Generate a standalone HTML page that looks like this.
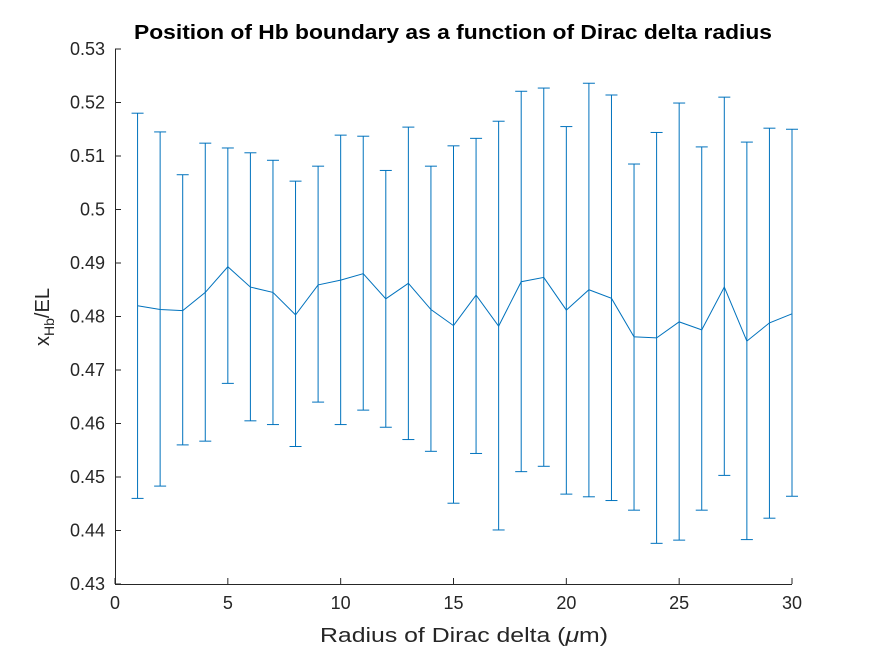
<!DOCTYPE html>
<html><head><meta charset="utf-8"><style>
html,body{margin:0;padding:0;background:#fff;}
svg{display:block;font-family:"Liberation Sans",Arial,sans-serif;}
</style></head><body>
<svg id="chart" width="875" height="656" viewBox="0 0 875 656">
<rect width="875" height="656" fill="#fff"/>
<text x="453" y="39" text-anchor="middle" font-size="20" font-weight="bold" fill="#000" textLength="638" lengthAdjust="spacingAndGlyphs">Position of Hb boundary as a function of Dirac delta radius</text>
<g id="axes"></g>
<g id="series"></g>
<text x="464" y="642" text-anchor="middle" font-size="20" fill="#262626" textLength="288" lengthAdjust="spacingAndGlyphs">Radius of Dirac delta (<tspan font-style="italic">μ</tspan>m)</text>
<text transform="translate(49,317) rotate(-90)" text-anchor="middle" font-size="20" fill="#262626">x<tspan font-size="14" dy="5">Hb</tspan><tspan dy="-5">/EL</tspan></text>
</svg>
<script>
const xs = [1,2,3,4,5,6,7,8,9,10,11,12,13,14,15,16,17,18,19,20,21,22,23,24,25,26,27,28,29,30];
const means = [0.482,0.4813,0.4811,0.4845,0.4893,0.4855,0.4845,0.4803,0.4859,0.4868,0.488,0.4833,0.4862,0.4813,0.4783,0.484,0.4782,0.4865,0.4873,0.4812,0.485,0.4834,0.4762,0.476,0.479,0.4775,0.4855,0.4754,0.4788,0.4805];
const uppers = [0.518,0.5145,0.5065,0.5124,0.5115,0.5106,0.5092,0.5053,0.5081,0.5139,0.5137,0.5073,0.5154,0.5081,0.5119,0.5133,0.5165,0.5221,0.5227,0.5155,0.5236,0.5214,0.5085,0.5144,0.5199,0.5117,0.521,0.5126,0.5152,0.515];
const lowers = [0.446,0.4483,0.456,0.4567,0.4675,0.4605,0.4598,0.4557,0.464,0.4598,0.4625,0.4593,0.457,0.4548,0.4451,0.4544,0.4401,0.451,0.452,0.4468,0.4463,0.4456,0.4438,0.4376,0.4382,0.4438,0.4503,0.4383,0.4423,0.4464];
const xTicks = [0,5,10,15,20,25,30];
const yTicks = [0.43,0.44,0.45,0.46,0.47,0.48,0.49,0.5,0.51,0.52,0.53];
const yTickLabels = ["0.43","0.44","0.45","0.46","0.47","0.48","0.49","0.5","0.51","0.52","0.53"];

const NS="http://www.w3.org/2000/svg";
const X0=115,X1=792,Y0=584,Y1=49;
const sx=v=>X0+(v-0)/(30-0)*(X1-X0);
const sy=v=>Y0-(v-0.43)/(0.53-0.43)*(Y0-Y1);
const axes=document.getElementById('axes'), series=document.getElementById('series');
function mk(tag,attrs,parent){const e=document.createElementNS(NS,tag);for(const k in attrs)e.setAttribute(k,attrs[k]);parent.appendChild(e);return e;}

let l=mk('line',{x1:X0,y1:Y0+0.5,x2:X1,y2:Y0+0.5,stroke:'#262626','stroke-width':1},axes);


l=mk('line',{x1:X0+0.5,y1:Y0,x2:X0+0.5,y2:Y1,stroke:'#262626','stroke-width':1},axes);


xTicks.forEach(t=>{
  const x=sx(t);
  const tk=mk('line',{x1:x,y1:Y0,x2:x,y2:Y0-6,stroke:'#262626'},axes);
  
  
  const tx=mk('text',{x:x,y:Y0+25,'text-anchor':'middle','font-size':18,fill:'#262626'},axes);
  tx.textContent=t;
  
  
});
yTicks.forEach((t,i)=>{
  const y=sy(t);
  const tk=mk('line',{x1:X0,y1:y,x2:X0+6,y2:y,stroke:'#262626'},axes);
  
  
  const tx=mk('text',{x:X0-10,y:y+6,'text-anchor':'end','font-size':18,fill:'#262626'},axes);
  tx.textContent=yTickLabels[i];
  
  
});
const C='#0072BD';
xs.forEach((x,i)=>{
  const px=sx(x),yu=sy(uppers[i]),yl=sy(lowers[i]);
  const g=mk('g',{stroke:C,'stroke-width':1,fill:'none'},series);
  
  
  mk('line',{x1:px,y1:yu,x2:px,y2:yl},g);
  mk('line',{x1:px-6,y1:yu,x2:px+6,y2:yu},g);
  mk('line',{x1:px-6,y1:yl,x2:px+6,y2:yl},g);
});
const p=mk('polyline',{points:xs.map((x,i)=>sx(x)+','+sy(means[i])).join(' '),stroke:C,'stroke-width':1,fill:'none'},series);


</script>
</body></html>
